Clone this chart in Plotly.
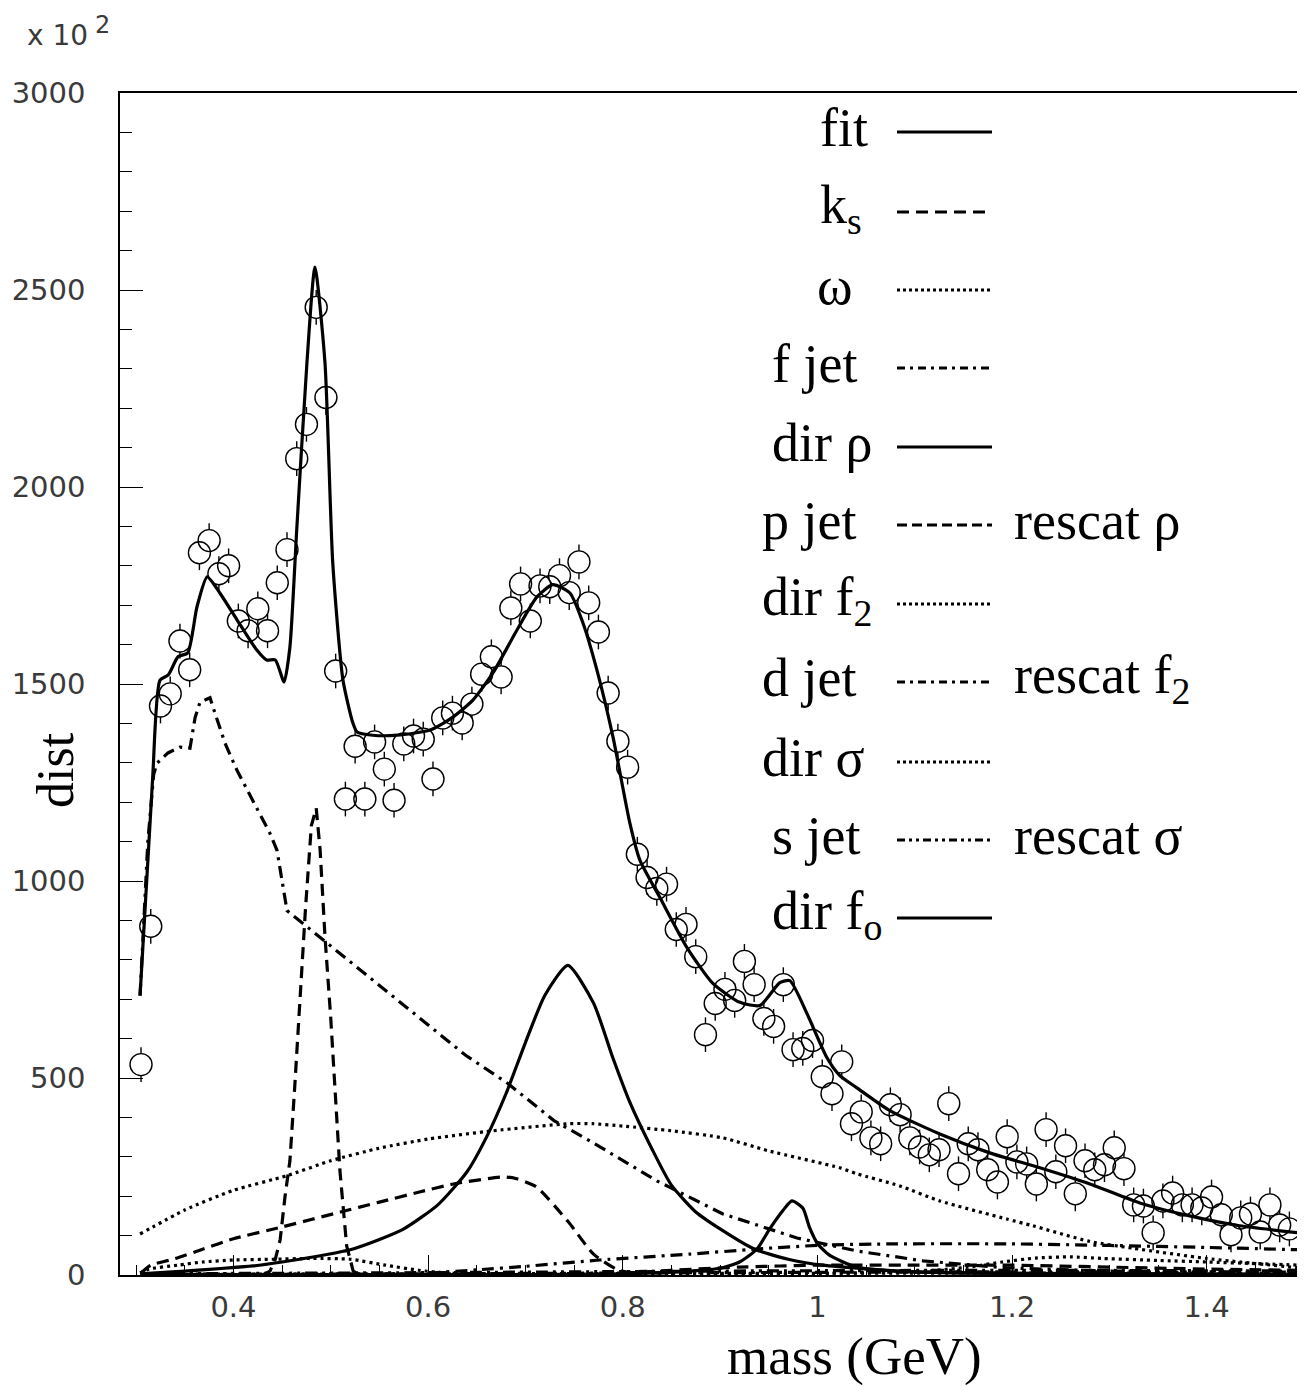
import plotly.graph_objects as go

# ---------------- data ----------------
mass = [0.305, 0.315, 0.325, 0.335, 0.345, 0.355, 0.365, 0.375, 0.385, 0.395,
        0.405, 0.415, 0.425, 0.435, 0.445, 0.455, 0.465, 0.475, 0.485, 0.495,
        0.505, 0.515, 0.525, 0.535, 0.545, 0.555, 0.565, 0.575, 0.585, 0.595,
        0.605, 0.615, 0.625, 0.635, 0.645, 0.655, 0.665, 0.675, 0.685, 0.695,
        0.705, 0.715, 0.725, 0.735, 0.745, 0.755, 0.765, 0.775, 0.785, 0.795,
        0.805, 0.815, 0.825, 0.835, 0.845, 0.855, 0.865, 0.875, 0.885, 0.895,
        0.905, 0.915, 0.925, 0.935, 0.945, 0.955, 0.965, 0.975, 0.985, 0.995,
        1.005, 1.015, 1.025, 1.035, 1.045, 1.055, 1.065, 1.075, 1.085, 1.095,
        1.105, 1.115, 1.125, 1.135, 1.145, 1.155, 1.165, 1.175, 1.185, 1.195,
        1.205, 1.215, 1.225, 1.235, 1.245, 1.255, 1.265, 1.275, 1.285, 1.295,
        1.305, 1.315, 1.325, 1.335, 1.345, 1.355, 1.365, 1.375, 1.385, 1.395,
        1.405, 1.415, 1.425, 1.435, 1.445, 1.455, 1.465, 1.475, 1.485]

counts = [534, 885, 1444, 1475, 1609, 1536, 1833, 1864, 1780, 1800,
          1660, 1635, 1691, 1635, 1757, 1841, 2072, 2159, 2456, 2227,
          1533, 1208, 1342, 1208, 1353, 1284, 1205, 1348, 1368, 1360,
          1259, 1414, 1426, 1401, 1449, 1525, 1569, 1518, 1693, 1754,
          1660, 1749, 1747, 1775, 1732, 1810, 1706, 1632, 1477, 1355,
          1289, 1068, 1009, 981, 992, 877, 890, 808, 610, 689,
          725, 697, 796, 737, 651, 631, 737, 572, 575, 595,
          503, 460, 541, 384, 414, 348, 333, 432, 407, 348,
          325, 305, 318, 435, 257, 333, 318, 267, 236, 351,
          287, 282, 231, 369, 262, 328, 206, 290, 267, 280,
          323, 270, 178, 175, 107, 188, 208, 178, 178, 170,
          198, 153, 102, 145, 155, 109, 178, 127, 117]
count_err = 44

fit_x = [0.304, 0.317, 0.3245, 0.333, 0.343, 0.353, 0.3625, 0.373, 0.386, 0.4036,
         0.424, 0.434, 0.443, 0.452, 0.458, 0.465, 0.4755, 0.4837, 0.494, 0.502,
         0.5125, 0.5227, 0.527, 0.543, 0.568, 0.602, 0.6255, 0.646, 0.6666, 0.6913,
         0.7118, 0.7282, 0.7457, 0.7591, 0.7734, 0.79, 0.8073, 0.8176, 0.8382, 0.866,
         0.8926, 0.9203, 0.9409, 0.9614, 0.9717, 0.9892, 1.0097, 1.0231, 1.0406, 1.0745,
         1.1258, 1.177, 1.2286, 1.28, 1.3313, 1.3826, 1.434, 1.4956]
fit_y = [709, 1264, 1510, 1523, 1569, 1579, 1696, 1772, 1731, 1663,
         1586, 1561, 1561, 1505, 1594, 1892, 2316, 2558, 2316, 1808,
         1510, 1401, 1378, 1370, 1370, 1383, 1416, 1459, 1528, 1637,
         1721, 1752, 1731, 1655, 1536, 1365, 1147, 1053, 958, 831,
         740, 692, 684, 742, 747, 664, 552, 506, 475, 417,
         358, 310, 272, 231, 183, 150, 125, 107]

ks_x = [0.43, 0.4375, 0.443, 0.448, 0.453, 0.458, 0.463, 0.468, 0.474, 0.480,
        0.485, 0.489, 0.494, 0.500, 0.505, 0.5094, 0.5163, 0.523, 0.53]
ks_y = [0, 10, 40, 90, 200, 290, 480, 690, 930, 1140,
        1185, 1080, 860, 650, 430, 264, 74, 10, 0]

omega_x = [0.304, 0.313, 0.343, 0.368, 0.40, 0.44, 0.48, 0.52, 0.556, 0.59, 0.62, 0.66, 0.70]
omega_y = [5, 15, 25, 33, 38, 40, 42, 40, 25, 12, 5, 2, 0]

fjet_x = [0.304, 0.312, 0.318, 0.3214, 0.3327, 0.345, 0.3553, 0.3605, 0.3656, 0.3759,
          0.381, 0.3913, 0.4036, 0.4375, 0.4447, 0.455, 0.494, 0.6389, 0.682, 0.7293,
          0.7693, 0.835, 0.9029, 0.979, 1.0405, 1.1083, 1.1946, 1.30, 1.4956]
fjet_y = [709, 1100, 1270, 1299, 1325, 1340, 1337, 1414, 1454, 1465,
          1426, 1350, 1281, 1121, 1078, 925, 847, 557, 486, 392,
          336, 239, 155, 94, 61, 36, 18, 10, 6]

rho_x = [0.304, 0.35, 0.42, 0.45, 0.48, 0.52, 0.55, 0.575, 0.61, 0.64,
         0.66, 0.68, 0.70, 0.72, 0.7436, 0.77, 0.79, 0.807, 0.83, 0.85,
         0.875, 0.90, 0.935, 0.97, 1.005, 1.10, 1.30, 1.4956]
rho_y = [3, 10, 23, 33, 45, 64, 90, 117, 178, 262,
         350, 460, 590, 710, 786, 690, 550, 440, 320, 228,
         160, 117, 66, 40, 25, 8, 3, 1]

pjet_x = [0.305, 0.315, 0.338, 0.369, 0.40, 0.45, 0.51, 0.55, 0.59, 0.626,
          0.677, 0.69, 0.711, 0.744, 0.77, 0.795, 0.82]
pjet_y = [5, 25, 40, 66, 92, 122, 160, 185, 210, 231,
          249, 245, 224, 135, 53, 13, 2]

rescat_rho_x = [0.80, 0.85, 0.92, 1.0, 1.1, 1.2, 1.3, 1.4, 1.4956]
rescat_rho_y = [4, 12, 20, 25, 25, 25, 20, 15, 12]

dirf2_x = [0.80, 0.90, 1.0, 1.1, 1.155, 1.19, 1.224, 1.26, 1.293, 1.35, 1.40, 1.45, 1.4956]
dirf2_y = [1, 2, 4, 8, 20, 33, 43, 46, 42, 37, 33, 29, 25]

djet_x = [0.60, 0.65, 0.70, 0.776, 0.869, 0.938, 1.007, 1.08, 1.197, 1.30, 1.40, 1.4956]
djet_y = [5, 13, 22, 38, 53, 66, 76, 79, 79, 75, 70, 64]

rescat_f2_x = [0.304, 0.6, 0.9, 1.2, 1.4956]
rescat_f2_y = [1, 3, 6, 8, 7]

sigma_x = [0.304, 0.35, 0.40, 0.455, 0.50, 0.55, 0.60, 0.6666, 0.7447, 0.7693,
           0.80, 0.85, 0.9029, 0.95, 1.023, 1.0405, 1.0847, 1.1258, 1.1946, 1.2213,
           1.28, 1.3241, 1.40, 1.4956]
sigma_y = [104, 165, 215, 252, 290, 322, 345, 366, 384, 384,
           378, 366, 348, 315, 272, 257, 226, 188, 142, 125,
           85, 68, 42, 18]

sjet_x = [0.304, 0.6, 0.9, 1.2, 1.4956]
sjet_y = [3, 6, 10, 12, 10]

rescat_sigma_x = [0.304, 0.6, 0.9, 1.2, 1.4956]
rescat_sigma_y = [2, 3, 4, 5, 4]

f0_x = [0.304, 0.70, 0.80, 0.87, 0.90, 0.92, 0.938, 0.951, 0.965, 0.9738,
        0.985, 0.992, 1.0, 1.012, 1.04, 1.08, 1.2, 1.4956]
f0_y = [1, 1, 3, 10, 17, 33, 66, 117, 165, 188,
        170, 120, 80, 51, 20, 10, 4, 2]

x_tick_vals = [0.4, 0.6, 0.8, 1.0, 1.2, 1.4]
x_tick_text = ["0.4", "0.6", "0.8", "1", "1.2", "1.4"]
y_tick_vals = [0, 500, 1000, 1500, 2000, 2500, 3000]
y_tick_text = ["0", "500", "1000", "1500", "2000", "2500", "3000"]

# ---------------- styles ----------------
DASH = "12px,7px"
DOT = "3px,4px"
DASHDOT = "12px,6px,3px,6px"
DASHDOTDOT = "12px,5px,3px,5px,3px,5px"
LW = 3.2

SERIF = "Liberation Serif"
THIN = "DejaVu Sans ExtraLight, DejaVu Sans, Liberation Sans"
TICKCOL = "#3a3a3a"

fig = go.Figure()

# data points: error bars + white disks, then outlines
fig.add_trace(go.Scatter(
    x=mass, y=counts, mode="markers",
    marker=dict(symbol="circle", size=22, color="white", line=dict(width=0)),
    error_y=dict(type="constant", value=count_err, color="black", thickness=1.4, width=0),
    showlegend=False, hoverinfo="skip"))
fig.add_trace(go.Scatter(
    x=mass, y=counts, mode="markers",
    marker=dict(symbol="circle-open", size=22, color="black", line=dict(width=1.4)),
    showlegend=False, name="data"))

curves = [
    ("dir σ", sigma_x, sigma_y, DOT, "spline"),
    ("ω", omega_x, omega_y, DOT, "spline"),
    ("dir f2", dirf2_x, dirf2_y, DOT, "spline"),
    ("rescat σ", rescat_sigma_x, rescat_sigma_y, DOT, "spline"),
    ("s jet", sjet_x, sjet_y, DASHDOTDOT, "spline"),
    ("rescat f2", rescat_f2_x, rescat_f2_y, DASHDOT, "spline"),
    ("d jet", djet_x, djet_y, DASHDOT, "spline"),
    ("rescat ρ", rescat_rho_x, rescat_rho_y, DASH, "spline"),
    ("p jet", pjet_x, pjet_y, DASH, "spline"),
    ("f jet", fjet_x, fjet_y, DASHDOT, "linear"),
    ("k_s", ks_x, ks_y, DASH, "linear"),
    ("dir f0", f0_x, f0_y, "solid", "spline"),
    ("dir ρ", rho_x, rho_y, "solid", "spline"),
    ("fit", fit_x, fit_y, "solid", "spline"),
]
for name, xs, ys, dash, shape in curves:
    fig.add_trace(go.Scatter(
        x=xs, y=ys, mode="lines", name=name,
        line=dict(color="black", width=LW, dash=dash, shape=shape,
                  smoothing=0.6 if shape == "spline" else None),
        showlegend=False))

# ---------------- layout ----------------
# page has an 8px body margin: the figure starts at (8, 8)
OFF = 8
PL, PR, PT, PB = 120, 1300, 93, 1275          # plot frame in page pixels
W, H = PR - OFF, 1386 - OFF
PW, PH = PR - PL, PB - PT


def px(xp):
    return (xp - PL) / PW


def py(yp):
    return (PB - yp) / PH


annotations = []
shapes = []

LEG_FONT = 54
legend_items = [
    ("fit", 818, 132, "solid", None),
    ("k<sub>s</sub>", 818, 212, DASH, None),
    ("ω", 815, 290, "3px,3px", None),
    ("f jet", 770, 368, "8px,5px,3px,5px", None),
    ("dir ρ", 770, 447, "solid", None),
    ("p jet", 760, 525, "10px,5px", "rescat ρ"),
    ("dir f<sub>2</sub>", 760, 604, "3px,3px", None),
    ("d jet", 760, 682, "8px,5px,3px,5px", "rescat f<sub>2</sub>"),
    ("dir σ", 760, 762, "3px,3px", None),
    ("s jet", 770, 840, "8px,4px,3px,4px,3px,4px", "rescat σ"),
    ("dir f<sub>o</sub>", 770, 918, "solid", None),
]
for text, xl, yl, dash, extra in legend_items:
    annotations.append(dict(
        xref="paper", yref="paper", x=px(xl), y=py(yl - 4), xanchor="left", yanchor="middle",
        text=text, showarrow=False, font=dict(family=SERIF, size=LEG_FONT, color="black")))
    shapes.append(dict(
        type="line", xref="paper", yref="paper", x0=px(897), x1=px(992), y0=py(yl), y1=py(yl),
        line=dict(color="black", width=3, dash=dash)))
    if extra:
        annotations.append(dict(
            xref="paper", yref="paper", x=px(1012), y=py(yl - 4), xanchor="left", yanchor="middle",
            text=extra, showarrow=False, font=dict(family=SERIF, size=LEG_FONT, color="black")))

annotations += [
    dict(xref="paper", yref="paper", x=px(854), y=py(1356), xanchor="center", yanchor="middle",
         text="mass (GeV)", showarrow=False, font=dict(family=SERIF, size=53, color="black")),
    dict(xref="paper", yref="paper", x=px(55), y=py(770), xanchor="center", yanchor="middle",
         text="dist", textangle=-90, showarrow=False, font=dict(family=SERIF, size=52, color="black")),
    dict(xref="paper", yref="paper", x=px(25), y=py(35), xanchor="left", yanchor="middle",
         text="x 10", showarrow=False, font=dict(family=THIN, size=28, color=TICKCOL)),
    dict(xref="paper", yref="paper", x=px(93), y=py(25), xanchor="left", yanchor="middle",
         text="2", showarrow=False, font=dict(family=THIN, size=24, color=TICKCOL)),
]

fig.update_layout(
    width=W, height=H,
    margin=dict(l=PL - OFF, r=W - (PR - OFF), t=PT - OFF, b=H - (PB - OFF), autoexpand=False),
    paper_bgcolor="white", plot_bgcolor="white",
    showlegend=False,
    annotations=annotations, shapes=shapes,
    xaxis=dict(range=[0.2834, 1.4959], showgrid=False, zeroline=False,
               showline=True, linecolor="black", linewidth=1.5, mirror=True,
               ticks="inside", ticklen=20, tickwidth=1.2, tickcolor="black",
               tickvals=x_tick_vals, ticktext=x_tick_text,
               minor=dict(ticks="inside", ticklen=10, dtick=0.05, tick0=0.3,
                          tickcolor="black", tickwidth=1),
               ticklabelstandoff=5,
               tickfont=dict(family=THIN, size=29, color=TICKCOL)),
    yaxis=dict(range=[0, 3000], showgrid=False, zeroline=False,
               showline=True, linecolor="black", linewidth=1.5, mirror=True,
               ticks="inside", ticklen=23, tickwidth=1.2, tickcolor="black",
               tickvals=y_tick_vals, ticktext=y_tick_text,
               minor=dict(ticks="inside", ticklen=12, dtick=100, tick0=0,
                          tickcolor="black", tickwidth=1),
               ticklabelstandoff=27,
               tickfont=dict(family=THIN, size=29, color=TICKCOL)),
)

fig.write_html("out.html")
